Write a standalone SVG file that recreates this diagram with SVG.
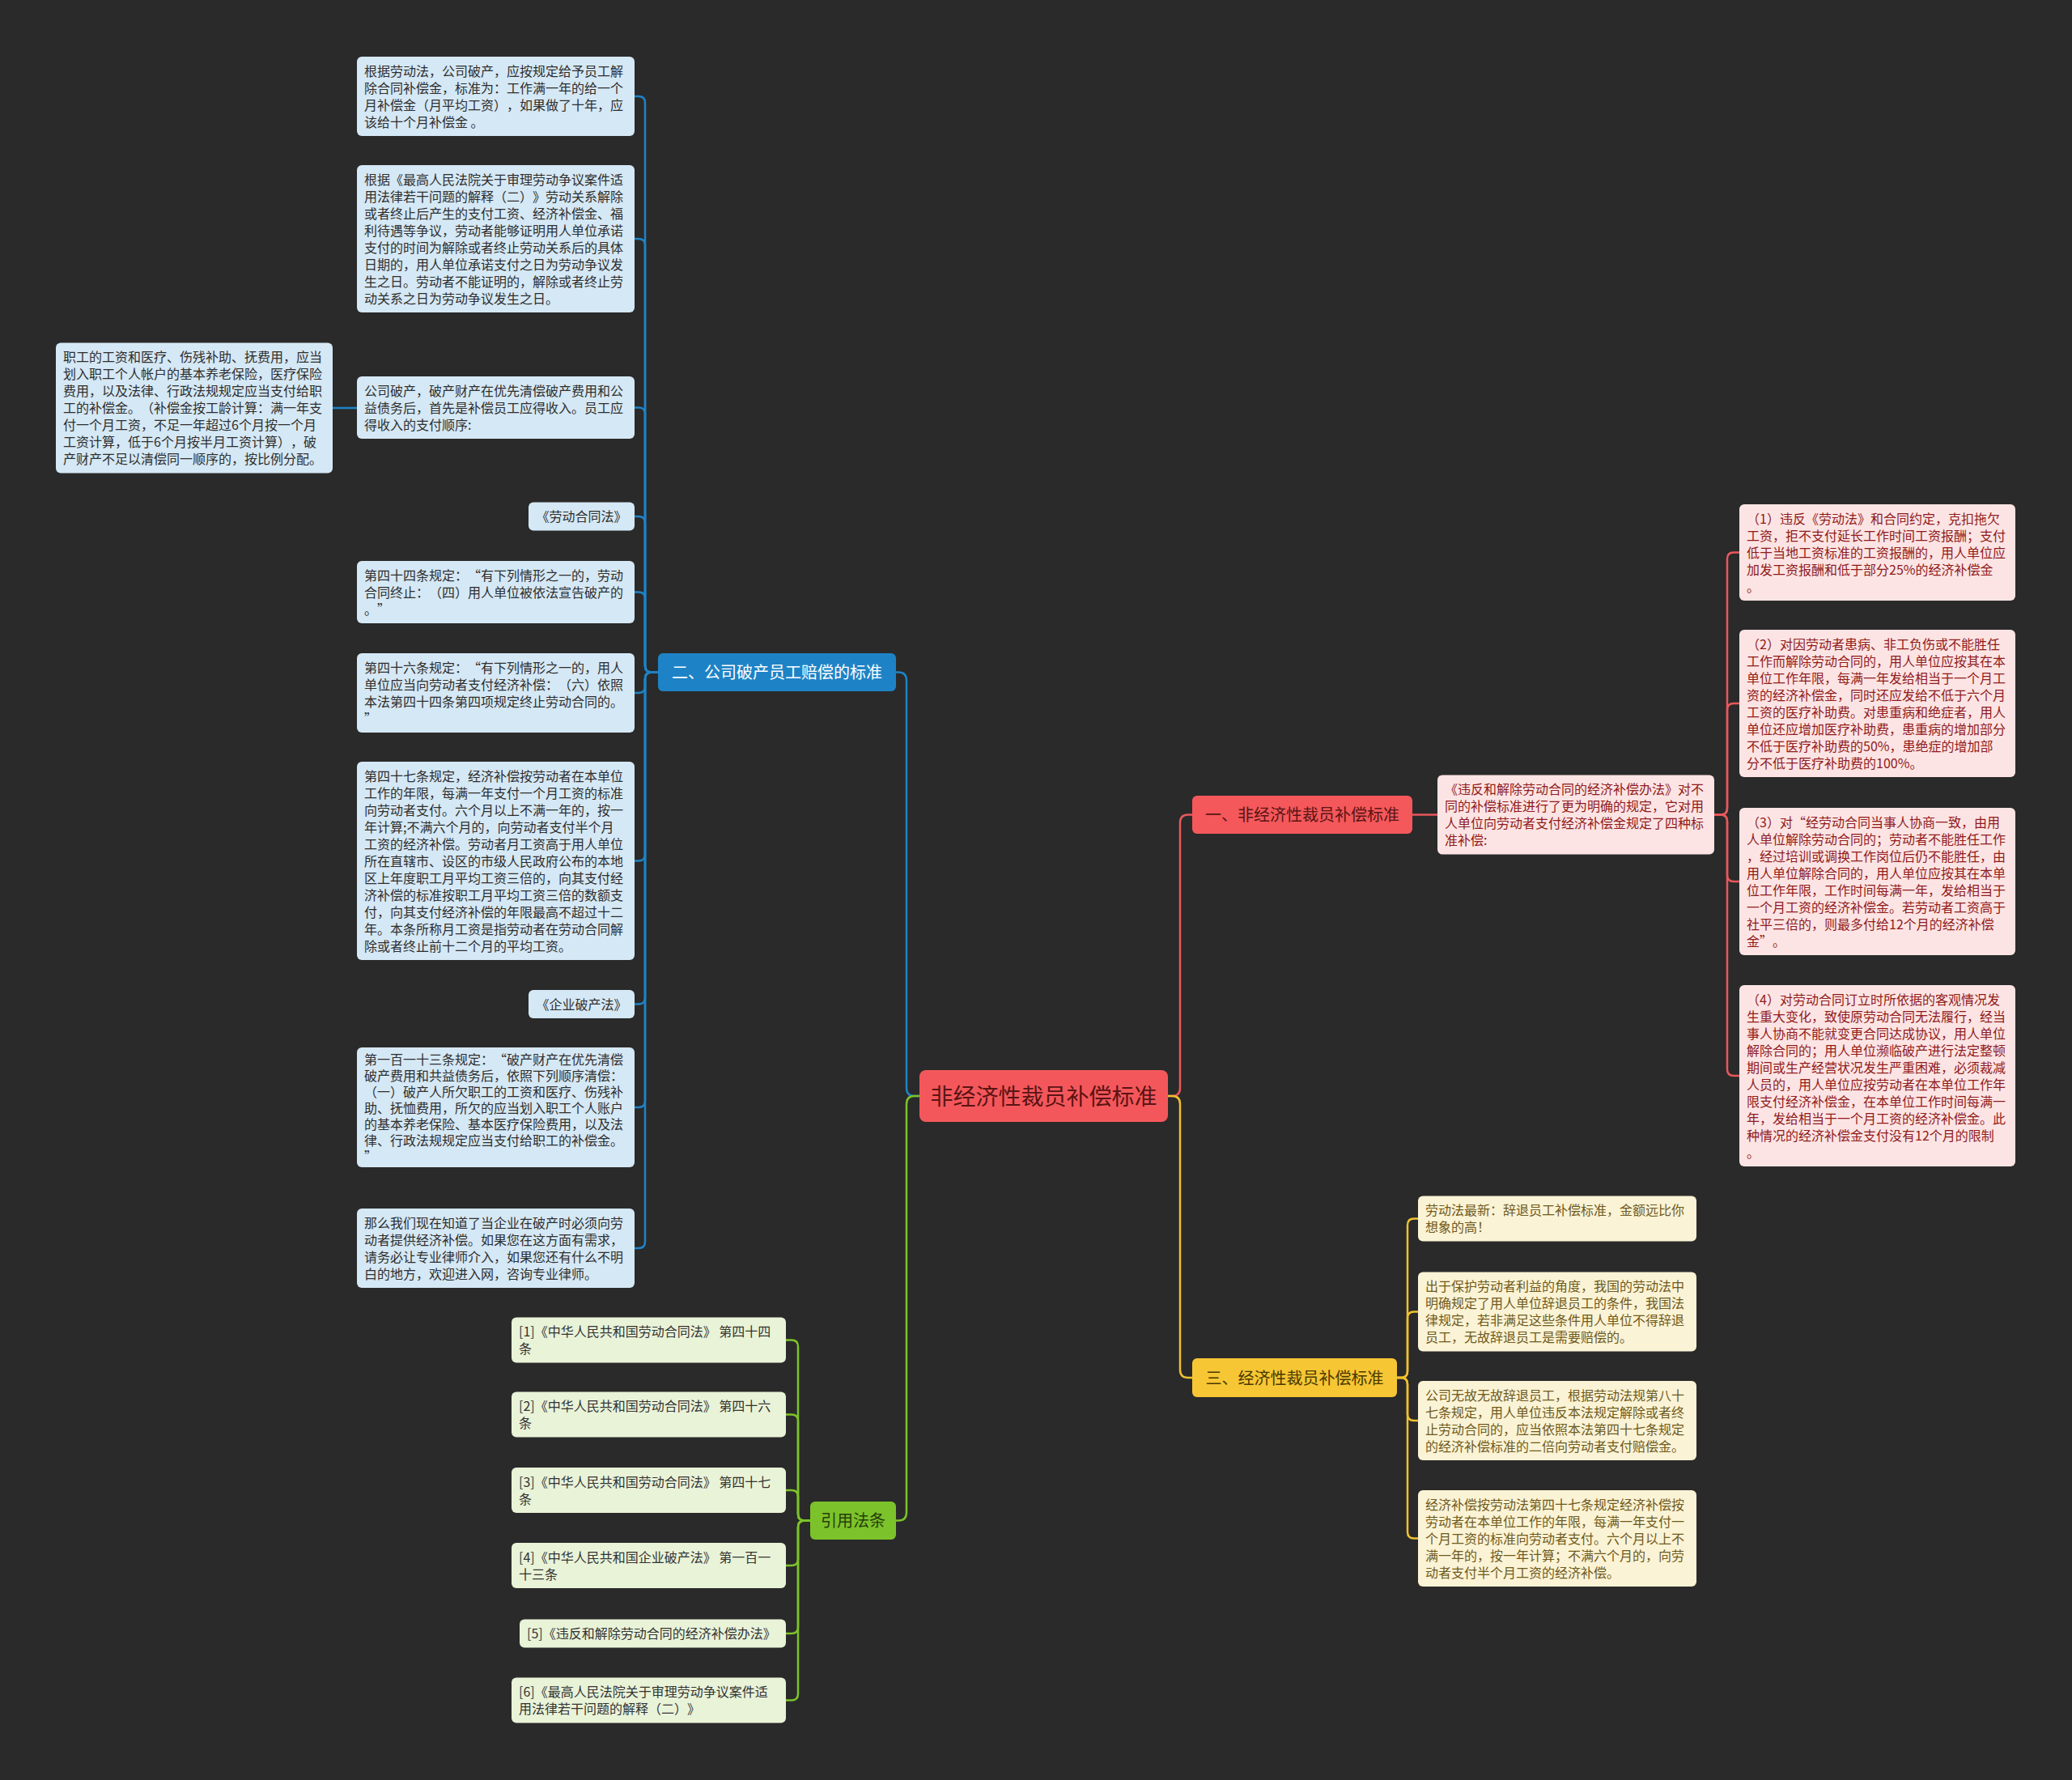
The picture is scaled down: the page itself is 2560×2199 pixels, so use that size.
<svg xmlns="http://www.w3.org/2000/svg" width="2560" height="2199" viewBox="0 0 2560 2199">
<style>
text{font-family:"Noto Sans CJK SC","Noto Sans",sans-serif;text-spacing-trim:space-all;}
.t{font-size:16px;}
.cb{fill:#d5e8f5;}
.cr{fill:#fde4e4;}
.cy{fill:#fbf3d5;}
.cg{fill:#e9f3d8;}
.tb{fill:#2e2e2e;}
.tr{fill:#8f1b1b;}
.ty{fill:#6e5a1c;}
.tg{fill:#333333;}
.br{font-size:20px;text-anchor:middle;}
.c{fill:none;stroke-width:2.5;stroke-linecap:round;}
.lb{stroke:#1e83c6;}
.lr{stroke:#e8585b;}
.ly{stroke:#f0c030;}
.lg{stroke:#7cc22a;}
</style>
<rect x="0" y="0" width="2560" height="2199" fill="#2a2a2a"/>

<g id="connectors">
<path class="c lb" d="M1136,1354 H1130 Q1120,1354 1120,1344 V840.5 Q1120,830.5 1110,830.5 H1107"/>
<path class="c lg" d="M1136,1354 H1130 Q1120,1354 1120,1364 V1868.5 Q1120,1878.5 1110,1878.5 H1107"/>
<path class="c lr" d="M1443,1354 H1448 Q1458,1354 1458,1344 V1016.5 Q1458,1006.5 1468,1006.5 H1473"/>
<path class="c ly" d="M1443,1354 H1448 Q1458,1354 1458,1364 V1692 Q1458,1702 1468,1702 H1473"/>

<path class="c lb" d="M813,830.5 H805 Q797,830.5 797,822.5 V127 Q797,119 789,119 H784"/>
<path class="c lb" d="M813,830.5 H805 Q797,830.5 797,822.5 V303 Q797,295 789,295 H784"/>
<path class="c lb" d="M813,830.5 H805 Q797,830.5 797,822.5 V511.5 Q797,503.5 789,503.5 H784"/>
<path class="c lb" d="M813,830.5 H805 Q797,830.5 797,822.5 V646 Q797,638 789,638 H784"/>
<path class="c lb" d="M813,830.5 H805 Q797,830.5 797,822.5 V739.5 Q797,731.5 789,731.5 H784"/>
<path class="c lb" d="M813,830.5 H805 Q797,830.5 797,838.5 V848 Q797,856 789,856 H784"/>
<path class="c lb" d="M813,830.5 H805 Q797,830.5 797,838.5 V1055.5 Q797,1063.5 789,1063.5 H784"/>
<path class="c lb" d="M813,830.5 H805 Q797,830.5 797,838.5 V1232.5 Q797,1240.5 789,1240.5 H784"/>
<path class="c lb" d="M813,830.5 H805 Q797,830.5 797,838.5 V1360 Q797,1368 789,1368 H784"/>
<path class="c lb" d="M813,830.5 H805 Q797,830.5 797,838.5 V1534 Q797,1542 789,1542 H784"/>
<path class="c lb" d="M441,504 H411"/>

<path class="c lr" d="M1745,1006.5 H1776"/>
<path class="c lr" d="M2118,1006.5 H2126 Q2134,1006.5 2134,998.5 V690.5 Q2134,682.5 2142,682.5 H2149"/>
<path class="c lr" d="M2118,1006.5 H2126 Q2134,1006.5 2134,998.5 V877 Q2134,869 2142,869 H2149"/>
<path class="c lr" d="M2118,1006.5 H2126 Q2134,1006.5 2134,1014.5 V1081 Q2134,1089 2142,1089 H2149"/>
<path class="c lr" d="M2118,1006.5 H2126 Q2134,1006.5 2134,1014.5 V1321 Q2134,1329 2142,1329 H2149"/>

<path class="c ly" d="M1726,1702 H1731 Q1739,1702 1739,1694 V1513.5 Q1739,1505.5 1747,1505.5 H1752"/>
<path class="c ly" d="M1726,1702 H1731 Q1739,1702 1739,1694 V1628.5 Q1739,1620.5 1747,1620.5 H1752"/>
<path class="c ly" d="M1726,1702 H1731 Q1739,1702 1739,1710 V1747 Q1739,1755 1747,1755 H1752"/>
<path class="c ly" d="M1726,1702 H1731 Q1739,1702 1739,1710 V1892.5 Q1739,1900.5 1747,1900.5 H1752"/>

<path class="c lg" d="M1001,1878.5 H994 Q986,1878.5 986,1870.5 V1663.5 Q986,1655.5 978,1655.5 H971"/>
<path class="c lg" d="M1001,1878.5 H994 Q986,1878.5 986,1870.5 V1755.5 Q986,1747.5 978,1747.5 H971"/>
<path class="c lg" d="M1001,1878.5 H994 Q986,1878.5 986,1870.5 V1849 Q986,1841 978,1841 H971"/>
<path class="c lg" d="M1001,1878.5 H994 Q986,1878.5 986,1886.5 V1926 Q986,1934 978,1934 H971"/>
<path class="c lg" d="M1001,1878.5 H994 Q986,1878.5 986,1886.5 V2010 Q986,2018 978,2018 H971"/>
<path class="c lg" d="M1001,1878.5 H994 Q986,1878.5 986,1886.5 V2092.5 Q986,2100.5 978,2100.5 H971"/>
</g>

<g id="center">
<rect x="1136" y="1322" width="307" height="64" rx="8" fill="#f4575b"/>
<text x="1289.5" y="1364.6" style="font-size:28px;text-anchor:middle;fill:#5a1414;">非经济性裁员补偿标准</text>
</g>

<g id="branch-blue">
<rect x="813" y="807" width="294" height="47" rx="6" fill="#1e83c6"/>
<text class="br" x="960" y="838" fill="#ffffff">二、公司破产员工赔偿的标准</text>
</g>
<g id="branch-red">
<rect x="1473" y="983" width="272" height="47" rx="6" fill="#f4585b"/>
<text class="br" x="1609" y="1014" fill="#5a1414">一、非经济性裁员补偿标准</text>
</g>
<g id="branch-yellow">
<rect x="1473" y="1678" width="253" height="48" rx="6" fill="#f7c634"/>
<text class="br" x="1599.5" y="1709.6" fill="#4a3a00">三、经济性裁员补偿标准</text>
</g>
<g id="branch-green">
<rect x="1001" y="1855" width="106" height="47" rx="6" fill="#7cc22a"/>
<text class="br" x="1054" y="1886" fill="#24400a">引用法条</text>
</g>

<g id="b1">
<rect class="cb" x="441" y="70" width="343" height="98" rx="6"/>
<text class="t tb" x="450" y="93.5"><tspan x="450">根据劳动法，公司破产，应按规定给予员工解</tspan><tspan x="450" dy="21">除合同补偿金，标准为：工作满一年的给一个</tspan><tspan x="450" dy="21">月补偿金（月平均工资），如果做了十年，应</tspan><tspan x="450" dy="21">该给十个月补偿金 。</tspan></text>
</g>
<g id="b2">
<rect class="cb" x="441" y="204" width="343" height="182" rx="6"/>
<text class="t tb" x="450" y="227.5"><tspan x="450">根据《最高人民法院关于审理劳动争议案件适</tspan><tspan x="450" dy="21">用法律若干问题的解释（二）》劳动关系解除</tspan><tspan x="450" dy="21">或者终止后产生的支付工资、经济补偿金、福</tspan><tspan x="450" dy="21">利待遇等争议，劳动者能够证明用人单位承诺</tspan><tspan x="450" dy="21">支付的时间为解除或者终止劳动关系后的具体</tspan><tspan x="450" dy="21">日期的，用人单位承诺支付之日为劳动争议发</tspan><tspan x="450" dy="21">生之日。劳动者不能证明的，解除或者终止劳</tspan><tspan x="450" dy="21">动关系之日为劳动争议发生之日。</tspan></text>
</g>
<g id="b3">
<rect class="cb" x="441" y="465" width="343" height="77" rx="6"/>
<text class="t tb" x="450" y="488.5"><tspan x="450">公司破产，破产财产在优先清偿破产费用和公</tspan><tspan x="450" dy="21">益债务后，首先是补偿员工应得收入。员工应</tspan><tspan x="450" dy="21">得收入的支付顺序:</tspan></text>
</g>
<g id="bL">
<rect class="cb" x="69" y="423.5" width="342" height="161" rx="6"/>
<text class="t tb" x="78" y="447"><tspan x="78">职工的工资和医疗、伤残补助、抚费用，应当</tspan><tspan x="78" dy="21">划入职工个人帐户的基本养老保险，医疗保险</tspan><tspan x="78" dy="21">费用，以及法律、行政法规规定应当支付给职</tspan><tspan x="78" dy="21">工的补偿金。（补偿金按工龄计算：满一年支</tspan><tspan x="78" dy="21">付一个月工资，不足一年超过6个月按一个月</tspan><tspan x="78" dy="21">工资计算，低于6个月按半月工资计算），破</tspan><tspan x="78" dy="21">产财产不足以清偿同一顺序的，按比例分配。</tspan></text>
</g>
<g id="b4">
<rect class="cb" x="653" y="620.5" width="131" height="35" rx="6"/>
<text class="t tb" x="718.5" y="644" text-anchor="middle">《劳动合同法》</text>
</g>
<g id="b5">
<rect class="cb" x="441" y="693" width="343" height="77" rx="6"/>
<text class="t tb" x="450" y="716.5"><tspan x="450">第四十四条规定：“有下列情形之一的，劳动</tspan><tspan x="450" dy="21">合同终止：（四）用人单位被依法宣告破产的</tspan><tspan x="450" dy="21">。”</tspan></text>
</g>
<g id="b6">
<rect class="cb" x="441" y="807" width="343" height="98" rx="6"/>
<text class="t tb" x="450" y="830.5"><tspan x="450">第四十六条规定：“有下列情形之一的，用人</tspan><tspan x="450" dy="21">单位应当向劳动者支付经济补偿：（六）依照</tspan><tspan x="450" dy="21">本法第四十四条第四项规定终止劳动合同的。</tspan><tspan x="450" dy="21">”</tspan></text>
</g>
<g id="b7">
<rect class="cb" x="441" y="941" width="343" height="245" rx="6"/>
<text class="t tb" x="450" y="964.5"><tspan x="450">第四十七条规定，经济补偿按劳动者在本单位</tspan><tspan x="450" dy="21">工作的年限，每满一年支付一个月工资的标准</tspan><tspan x="450" dy="21">向劳动者支付。六个月以上不满一年的，按一</tspan><tspan x="450" dy="21">年计算;不满六个月的，向劳动者支付半个月</tspan><tspan x="450" dy="21">工资的经济补偿。劳动者月工资高于用人单位</tspan><tspan x="450" dy="21">所在直辖市、设区的市级人民政府公布的本地</tspan><tspan x="450" dy="21">区上年度职工月平均工资三倍的，向其支付经</tspan><tspan x="450" dy="21">济补偿的标准按职工月平均工资三倍的数额支</tspan><tspan x="450" dy="21">付，向其支付经济补偿的年限最高不超过十二</tspan><tspan x="450" dy="21">年。本条所称月工资是指劳动者在劳动合同解</tspan><tspan x="450" dy="21">除或者终止前十二个月的平均工资。</tspan></text>
</g>
<g id="b8">
<rect class="cb" x="653" y="1223" width="131" height="35" rx="6"/>
<text class="t tb" x="718.5" y="1246.5" text-anchor="middle">《企业破产法》</text>
</g>
<g id="b9">
<rect class="cb" x="441" y="1294" width="343" height="148" rx="6"/>
<text class="t tb" x="450" y="1315"><tspan x="450">第一百一十三条规定：“破产财产在优先清偿</tspan><tspan x="450" dy="20">破产费用和共益债务后，依照下列顺序清偿：</tspan><tspan x="450" dy="20">（一）破产人所欠职工的工资和医疗、伤残补</tspan><tspan x="450" dy="20">助、抚恤费用，所欠的应当划入职工个人账户</tspan><tspan x="450" dy="20">的基本养老保险、基本医疗保险费用，以及法</tspan><tspan x="450" dy="20">律、行政法规规定应当支付给职工的补偿金。</tspan><tspan x="450" dy="20">”</tspan></text>
</g>
<g id="b10">
<rect class="cb" x="441" y="1493" width="343" height="98" rx="6"/>
<text class="t tb" x="450" y="1516.5"><tspan x="450">那么我们现在知道了当企业在破产时必须向劳</tspan><tspan x="450" dy="21">动者提供经济补偿。如果您在这方面有需求，</tspan><tspan x="450" dy="21">请务必让专业律师介入，如果您还有什么不明</tspan><tspan x="450" dy="21">白的地方，欢迎进入网，咨询专业律师。</tspan></text>
</g>

<g id="r0">
<rect class="cr" x="1776" y="957.5" width="342" height="98" rx="6"/>
<text class="t tr" x="1785" y="981"><tspan x="1785">《违反和解除劳动合同的经济补偿办法》对不</tspan><tspan x="1785" dy="21">同的补偿标准进行了更为明确的规定，它对用</tspan><tspan x="1785" dy="21">人单位向劳动者支付经济补偿金规定了四种标</tspan><tspan x="1785" dy="21">准补偿:</tspan></text>
</g>
<g id="r1">
<rect class="cr" x="2149" y="623" width="341" height="119" rx="6"/>
<text class="t tr" x="2158" y="646.5"><tspan x="2158">（1）违反《劳动法》和合同约定，克扣拖欠</tspan><tspan x="2158" dy="21">工资，拒不支付延长工作时间工资报酬；支付</tspan><tspan x="2158" dy="21">低于当地工资标准的工资报酬的，用人单位应</tspan><tspan x="2158" dy="21">加发工资报酬和低于部分25%的经济补偿金</tspan><tspan x="2158" dy="21">。</tspan></text>
</g>
<g id="r2">
<rect class="cr" x="2149" y="778" width="341" height="182" rx="6"/>
<text class="t tr" x="2158" y="801.5"><tspan x="2158">（2）对因劳动者患病、非工负伤或不能胜任</tspan><tspan x="2158" dy="21">工作而解除劳动合同的，用人单位应按其在本</tspan><tspan x="2158" dy="21">单位工作年限，每满一年发给相当于一个月工</tspan><tspan x="2158" dy="21">资的经济补偿金，同时还应发给不低于六个月</tspan><tspan x="2158" dy="21">工资的医疗补助费。对患重病和绝症者，用人</tspan><tspan x="2158" dy="21">单位还应增加医疗补助费，患重病的增加部分</tspan><tspan x="2158" dy="21">不低于医疗补助费的50%，患绝症的增加部</tspan><tspan x="2158" dy="21">分不低于医疗补助费的100%。</tspan></text>
</g>
<g id="r3">
<rect class="cr" x="2149" y="998" width="341" height="182" rx="6"/>
<text class="t tr" x="2158" y="1021.5"><tspan x="2158">（3）对“经劳动合同当事人协商一致，由用</tspan><tspan x="2158" dy="21">人单位解除劳动合同的；劳动者不能胜任工作</tspan><tspan x="2158" dy="21">，经过培训或调换工作岗位后仍不能胜任，由</tspan><tspan x="2158" dy="21">用人单位解除合同的，用人单位应按其在本单</tspan><tspan x="2158" dy="21">位工作年限，工作时间每满一年，发给相当于</tspan><tspan x="2158" dy="21">一个月工资的经济补偿金。若劳动者工资高于</tspan><tspan x="2158" dy="21">社平三倍的，则最多付给12个月的经济补偿</tspan><tspan x="2158" dy="21">金”。</tspan></text>
</g>
<g id="r4">
<rect class="cr" x="2149" y="1217" width="341" height="224" rx="6"/>
<text class="t tr" x="2158" y="1240.5"><tspan x="2158">（4）对劳动合同订立时所依据的客观情况发</tspan><tspan x="2158" dy="21">生重大变化，致使原劳动合同无法履行，经当</tspan><tspan x="2158" dy="21">事人协商不能就变更合同达成协议，用人单位</tspan><tspan x="2158" dy="21">解除合同的；用人单位濒临破产进行法定整顿</tspan><tspan x="2158" dy="21">期间或生产经营状况发生严重困难，必须裁减</tspan><tspan x="2158" dy="21">人员的，用人单位应按劳动者在本单位工作年</tspan><tspan x="2158" dy="21">限支付经济补偿金，在本单位工作时间每满一</tspan><tspan x="2158" dy="21">年，发给相当于一个月工资的经济补偿金。此</tspan><tspan x="2158" dy="21">种情况的经济补偿金支付没有12个月的限制</tspan><tspan x="2158" dy="21">。</tspan></text>
</g>

<g id="y1">
<rect class="cy" x="1752" y="1477.5" width="344" height="56" rx="6"/>
<text class="t ty" x="1761" y="1501"><tspan x="1761">劳动法最新：辞退员工补偿标准，金额远比你</tspan><tspan x="1761" dy="21">想象的高！</tspan></text>
</g>
<g id="y2">
<rect class="cy" x="1752" y="1571.5" width="344" height="98" rx="6"/>
<text class="t ty" x="1761" y="1595"><tspan x="1761">出于保护劳动者利益的角度，我国的劳动法中</tspan><tspan x="1761" dy="21">明确规定了用人单位辞退员工的条件，我国法</tspan><tspan x="1761" dy="21">律规定，若非满足这些条件用人单位不得辞退</tspan><tspan x="1761" dy="21">员工，无故辞退员工是需要赔偿的。</tspan></text>
</g>
<g id="y3">
<rect class="cy" x="1752" y="1706" width="344" height="98" rx="6"/>
<text class="t ty" x="1761" y="1729.5"><tspan x="1761">公司无故无故辞退员工，根据劳动法规第八十</tspan><tspan x="1761" dy="21">七条规定，用人单位违反本法规定解除或者终</tspan><tspan x="1761" dy="21">止劳动合同的，应当依照本法第四十七条规定</tspan><tspan x="1761" dy="21">的经济补偿标准的二倍向劳动者支付赔偿金。</tspan></text>
</g>
<g id="y4">
<rect class="cy" x="1752" y="1841" width="344" height="119" rx="6"/>
<text class="t ty" x="1761" y="1864.5"><tspan x="1761">经济补偿按劳动法第四十七条规定经济补偿按</tspan><tspan x="1761" dy="21">劳动者在本单位工作的年限，每满一年支付一</tspan><tspan x="1761" dy="21">个月工资的标准向劳动者支付。六个月以上不</tspan><tspan x="1761" dy="21">满一年的，按一年计算；不满六个月的，向劳</tspan><tspan x="1761" dy="21">动者支付半个月工资的经济补偿。</tspan></text>
</g>

<g id="g1">
<rect class="cg" x="632" y="1627.5" width="339" height="56" rx="6"/>
<text class="t tg" x="641" y="1651"><tspan x="641">[1]《中华人民共和国劳动合同法》 第四十四</tspan><tspan x="641" dy="21">条</tspan></text>
</g>
<g id="g2">
<rect class="cg" x="632" y="1719.5" width="339" height="56" rx="6"/>
<text class="t tg" x="641" y="1743"><tspan x="641">[2]《中华人民共和国劳动合同法》 第四十六</tspan><tspan x="641" dy="21">条</tspan></text>
</g>
<g id="g3">
<rect class="cg" x="632" y="1813" width="339" height="56" rx="6"/>
<text class="t tg" x="641" y="1836.5"><tspan x="641">[3]《中华人民共和国劳动合同法》 第四十七</tspan><tspan x="641" dy="21">条</tspan></text>
</g>
<g id="g4">
<rect class="cg" x="632" y="1906" width="339" height="56" rx="6"/>
<text class="t tg" x="641" y="1929.5"><tspan x="641">[4]《中华人民共和国企业破产法》 第一百一</tspan><tspan x="641" dy="21">十三条</tspan></text>
</g>
<g id="g5">
<rect class="cg" x="642" y="2000.5" width="329" height="35" rx="6"/>
<text class="t tg" x="651" y="2024">[5]《违反和解除劳动合同的经济补偿办法》</text>
</g>
<g id="g6">
<rect class="cg" x="632" y="2072.5" width="339" height="56" rx="6"/>
<text class="t tg" x="641" y="2096"><tspan x="641">[6]《最高人民法院关于审理劳动争议案件适</tspan><tspan x="641" dy="21">用法律若干问题的解释（二）》</tspan></text>
</g>
</svg>
